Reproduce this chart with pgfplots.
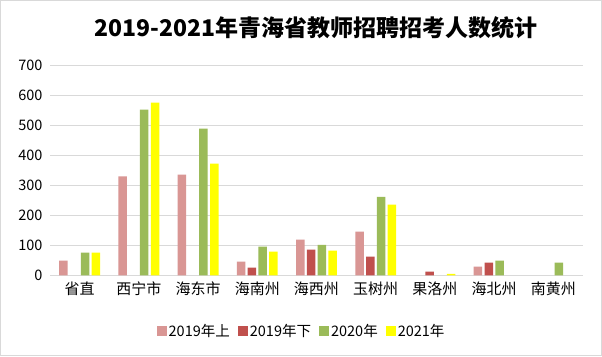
\documentclass[border=0pt]{standalone}
\usepackage{pgfplots}
\pgfplotsset{compat=1.18}
\usepackage{fontspec}
\setmainfont{Noto Sans CJK SC}
\definecolor{cpink}{HTML}{D99694}
\definecolor{cred}{HTML}{C0504D}
\definecolor{cgreen}{HTML}{9BBB59}
\definecolor{cyellow}{HTML}{FFFF00}
\definecolor{cgrid}{HTML}{D9D9D9}
\begin{document}
\begin{tikzpicture}
\useasboundingbox (0,0) rectangle (602pt,356pt);
\fill[white] (0,0) rectangle (602pt,356pt);
\draw[cgrid, line width=0.8pt] (0.4pt,0.4pt) rectangle (601.6pt,355.6pt);
\node[font=\bfseries\fontsize{23}{26}\selectfont] at (316pt,328pt) {2019-2021年青海省教师招聘招考人数统计};
\begin{axis}[
  at={(50pt,80.7pt)}, anchor=south west,
  scale only axis, width=533pt, height=209.6pt,
  xmin=-0.5, xmax=8.5, ymin=0, ymax=700,
  ytick={0,100,...,700},
  xtick={0,...,8},
  xticklabels={省直,西宁市,海东市,海南州,海西州,玉树州,果洛州,海北州,南黄州},
  axis line style={draw=none},
  major tick length=0pt,
  ymajorgrids, grid style={cgrid, line width=0.8pt},
  /pgf/number format/assume math mode=true,
  yticklabel style={font=\fontsize{14.5}{16}\selectfont, xshift=-4pt},
  xticklabel style={font=\fontsize{15}{17}\selectfont, yshift=-3pt},
  bar width=8.5pt,
  legend columns=4,
  legend style={at={(0.472,-0.266)}, anchor=center, draw=none, font=\fontsize{14.5}{16}\selectfont,
    /tikz/every even column/.append style={column sep=6pt}},
  legend image code/.code={\fill[#1] (0pt,-5pt) rectangle (10pt,5pt);},
]
\addplot[ybar, bar shift=-16.2pt, fill=cpink, draw=none] coordinates {(0,49) (1,330) (2,336) (3,46) (4,119) (5,146) (7,29)};
\addlegendentry{2019年上}
\addplot[ybar, bar shift=-5.4pt, fill=cred, draw=none] coordinates {(3,26) (4,86) (5,62) (6,12) (7,42)};
\addlegendentry{2019年下}
\addplot[ybar, bar shift=5.4pt, fill=cgreen, draw=none] coordinates {(0,76) (1,553) (2,490) (3,96) (4,102) (5,262) (7,49) (8,42)};
\addlegendentry{2020年}
\addplot[ybar, bar shift=16.2pt, fill=cyellow, draw=none] coordinates {(0,76) (1,577) (2,373) (3,79) (4,82) (5,236) (6,5)};
\addlegendentry{2021年}
\end{axis}
\end{tikzpicture}
\end{document}
